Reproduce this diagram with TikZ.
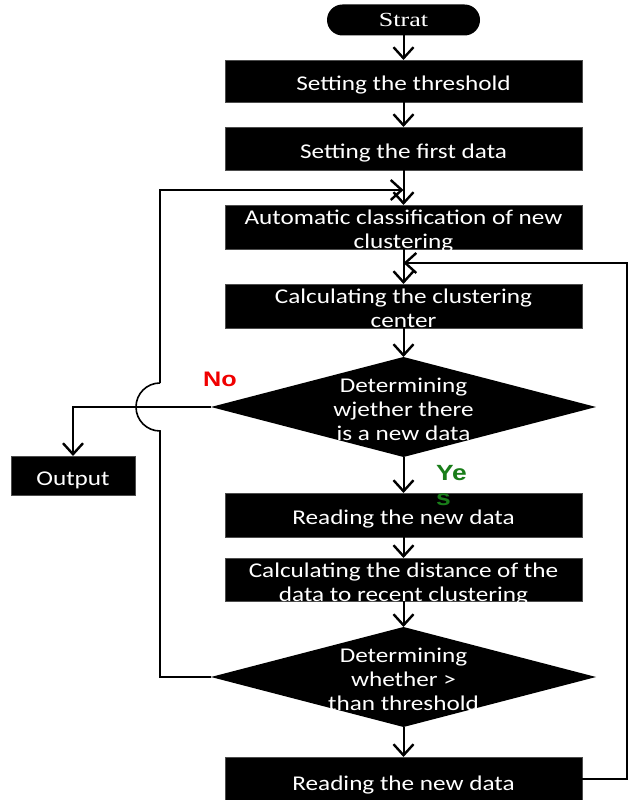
\documentclass[tikz,border=0pt]{standalone}
\usepackage{fontspec}
\setmainfont{Carlito}
\newfontfamily\boxfont[FakeStretch=1.2]{Carlito}
\newfontfamily\startfont[FakeStretch=1.3]{Liberation Serif}
\newfontfamily\labelfont[FakeStretch=1.2]{Liberation Sans}
\usetikzlibrary{shapes.geometric,arrows.meta}
% centred multi-line text that does not enlarge its shape
\newcommand\flowtext[1]{\raisebox{-0.48em}[0pt][0pt]{\makebox[0pt]{\begin{tabular}{@{}c@{}}#1\end{tabular}}}}
\definecolor{yesgreen}{RGB}{25,125,25}
\definecolor{nored}{RGB}{240,0,0}
\begin{document}
\begin{tikzpicture}[x=1pt,y=1pt,
  every node/.style={inner sep=0pt,outer sep=0pt},
  stepbox/.style={rectangle,fill=black,draw=black!70,line width=0.8pt,text=white,
    minimum width=357pt,minimum height=44pt,font=\boxfont\fontsize{21}{24}\selectfont},
  decision/.style={diamond,fill=black,text=white,minimum width=385pt,minimum height=100pt,
    font=\boxfont\fontsize{21}{24}\selectfont},
  terminal/.style={rectangle,rounded corners=15.5pt,fill=black,text=white,
    minimum width=153pt,minimum height=31pt,font=\startfont\fontsize{20}{24}\selectfont},
  flow/.style={line width=2pt,-{Straight Barb[length=11pt,width=20pt,line width=2.4pt]}},
  thinline/.style={line width=1.6pt}]
\useasboundingbox (0,0) rectangle (629,800);
\begin{scope}
\clip (0,0) rectangle (629,800);

% main column
\node[terminal] (start) at (403.5,780) {Strat};
\node[stepbox,minimum height=42pt] (b1) at (403.5,719) {\flowtext{Setting the threshold}};
\node[stepbox,minimum height=43pt] (b2) at (403.5,651.5) {\flowtext{Setting the first data}};
\node[stepbox] (b3) at (403.5,573) {\flowtext{Automatic classification of new\\clustering}};
\node[stepbox] (b4) at (403.5,494) {\flowtext{Calculating the clustering\\center}};
\node[decision] (d1) at (403.5,393) {\flowtext{Determining\\wjether there\\is a new data}};
\node[stepbox] (b5) at (403.5,285) {\flowtext{Reading the new data}};
\node[stepbox,minimum height=43pt] (b6) at (403.5,220.5) {\flowtext{Calculating the distance of the\\data to recent clustering}};
\node[decision] (d2) at (403.5,123) {\flowtext{Determining\\whether >\\than threshold}};
\node[stepbox,minimum height=48pt] (b7) at (403.5,19) {\flowtext{Reading the new data}};
\node[stepbox,minimum width=124pt,minimum height=39pt] (out) at (73,324.5) {\flowtext{Output}};

% branch labels
\node[text=nored,font=\labelfont\bfseries\fontsize{21}{24}\selectfont] (no) at (220,421) {No};
\node[text=yesgreen,font=\labelfont\bfseries\fontsize{22}{25}\selectfont,align=left,anchor=north west] (yes) at (436,335) {Ye\\s};

% junction points on the main column
\coordinate (j1) at (403.5,610);
\coordinate (j2) at (403.5,537);
\coordinate (rx) at (627,0);

% straight flow
\draw[flow] (start) -- (b1);
\draw[flow] (b1) -- (b2);
\draw[flow] (b2) -- (b3);
\draw[flow] (b3) -- (b4);
\draw[flow] (b4) -- (d1);
\draw[flow] (d1) -- (b5);
\draw[flow] (b5) -- (b6);
\draw[flow] (b6) -- (d2);
\draw[flow] (d2) -- (b7);

% "No" exit to the output
\draw[flow] (d1.west) -| (out.north);

% loop back from the threshold test, hopping over the "No" line
\draw[thinline] (d2.west) -| (160,369) arc[start angle=-90,end angle=-270,radius=24pt];
\draw[flow,line width=1.6pt] (160,417) |- (j1);

% loop back from the last reading
\draw[flow,line width=1.6pt] (b7.east |- 0,21) -| (rx |- j2) -- (j2);
\end{scope}
\end{tikzpicture}
\end{document}
